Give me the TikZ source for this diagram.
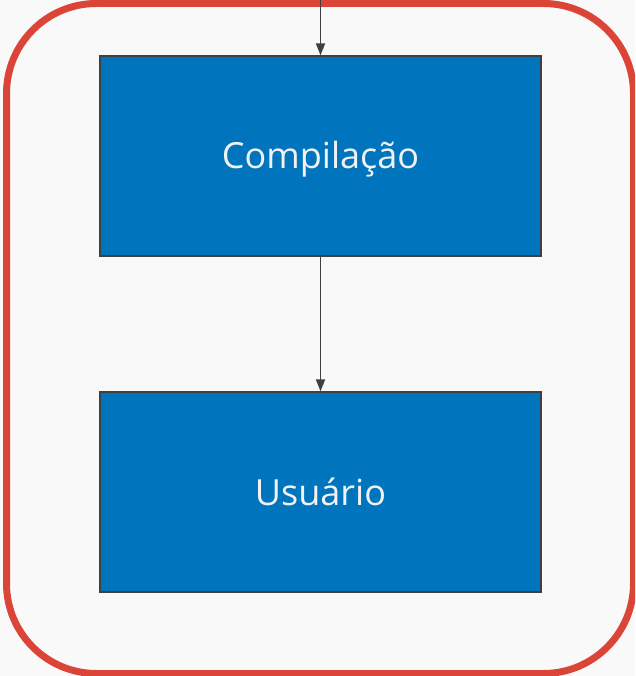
\documentclass[tikz,border=0pt]{standalone}
\usepackage{fontspec}
\setmainfont{Open Sans}
\usepackage{tikz}
\usetikzlibrary{positioning}
\usetikzlibrary{arrows.meta}
\definecolor{bluebox}{rgb}{0.0,0.46,0.74}
\definecolor{redframe}{rgb}{0.86,0.27,0.22}
\definecolor{darkline}{rgb}{0.25,0.25,0.25}
\definecolor{bgpaper}{rgb}{0.976,0.976,0.98}
\begin{document}
\begin{tikzpicture}
    [x=1pt, y=-1pt,
    stage/.style={fill=bluebox, draw=darkline, line width=1.3pt, minimum width=441pt, minimum height=200pt, inner sep=0pt, text height=26pt, text depth=0pt, text=white!95!black, font=\fontsize{36}{42}\selectfont},
    flow/.style={-{Triangle[width=9pt,length=12pt]}, draw=darkline, fill=darkline, line width=1.8pt}]
    \useasboundingbox (0,0) rectangle (635,676);
    \clip (0,0) rectangle (635,676);
    \fill[bgpaper] (0,0) rectangle (635,676);
    \draw[redframe, line width=7pt, rounded corners=90pt] (6.5,3.5) rectangle (633.5,673.5);
    %\draw[step=50pt,gray,very thin] (0,0) grid (635,676);
    \coordinate (in) at (320.5, 0);
    \node[stage] (C) at (320.5, 156) {Compilação};
    \node[stage] (U) at (320.5, 492) {Usuário};
    \draw[flow] (in) -- (C);
    \draw[flow] (C) -- (U);
\end{tikzpicture}
\end{document}
